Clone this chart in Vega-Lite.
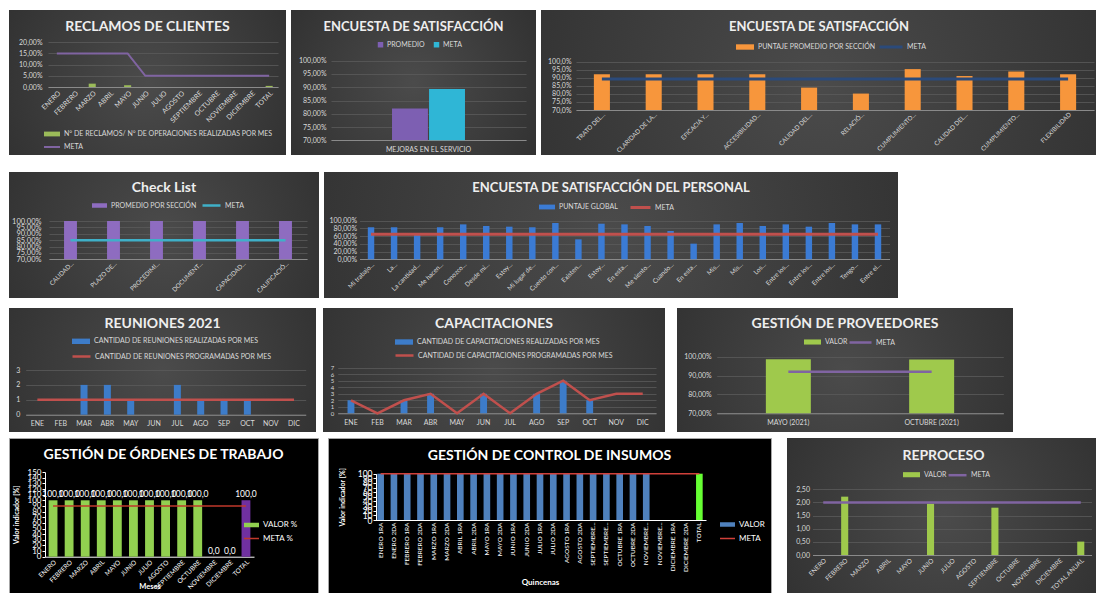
{
"$schema": "https://vega.github.io/schema/vega-lite/v6.json",
"background": "#ffffff",
"padding": {"left": 8, "top": 10, "right": 0, "bottom": 0},
"config": {
 "locale": {"number": {"decimal": ",", "thousands": ".", "grouping": [3], "currency": ["", " €"]}},
 "font": "Lato",
 "view": {"stroke": null},
 "axis": {"domain": false, "ticks": false, "labelColor": "#d9d9d9", "labelFont": "Lato", "labelFontSize": 7, "labelOverlap": false, "gridColor": "#5a5a5a", "gridWidth": 0.8, "titleFont": "Lato", "titleColor": "#ffffff"},
 "axisX": {"grid": false, "domain": true, "domainColor": "#8a8a8a", "domainWidth": 1},
 "axisY": {"grid": true},
 "legend": {"orient": "none", "labelColor": "#d9d9d9", "labelFont": "Lato", "labelFontSize": 7, "padding": 0, "labelLimit": 400, "labelOffset": 3},
 "title": {"color": "#eeeeee", "font": "Lato", "fontSize": 14, "fontWeight": "bold", "anchor": "middle", "baseline": "alphabetic"}
},
"datasets": {
 "reclamos": [
  {"mes": "ENERO", "valor": 0, "meta": 0.15},
  {"mes": "FEBRERO", "valor": 0, "meta": 0.15},
  {"mes": "MARZO", "valor": 0.015, "meta": 0.15},
  {"mes": "ABRIL", "valor": 0, "meta": 0.15},
  {"mes": "MAYO", "valor": 0.008, "meta": 0.15},
  {"mes": "JUNIO", "valor": 0, "meta": 0.05},
  {"mes": "JULIO", "valor": 0, "meta": 0.05},
  {"mes": "AGOSTO", "valor": 0, "meta": 0.05},
  {"mes": "SEPTIEMBRE", "valor": 0, "meta": 0.05},
  {"mes": "OCTUBRE", "valor": 0, "meta": 0.05},
  {"mes": "NOVIEMBRE", "valor": 0, "meta": 0.05},
  {"mes": "DICIEMBRE", "valor": 0, "meta": 0.05},
  {"mes": "TOTAL", "valor": 0.005, "meta": 0.05}
 ],
 "encuesta": [
  {"cat": "MEJORAS EN EL SERVICIO", "serie": "PROMEDIO", "valor": 0.82},
  {"cat": "MEJORAS EN EL SERVICIO", "serie": "META", "valor": 0.893}
 ],
 "secciones": [
  {"k": "01|TRATO DEL...", "valor": 0.922, "meta": 0.893},
  {"k": "02|CLARIDAD DE LA...", "valor": 0.922, "meta": 0.893},
  {"k": "03|EFICACIA Y...", "valor": 0.922, "meta": 0.893},
  {"k": "04|ACCESIBILIDAD...", "valor": 0.922, "meta": 0.893},
  {"k": "05|CALIDAD DEL...", "valor": 0.839, "meta": 0.893},
  {"k": "06|RELACIÓ...", "valor": 0.802, "meta": 0.893},
  {"k": "07|CUMPLIMIENTO...", "valor": 0.954, "meta": 0.893},
  {"k": "08|CALIDAD DEL...", "valor": 0.911, "meta": 0.893},
  {"k": "09|CUMPLIMIENTO...", "valor": 0.939, "meta": 0.893},
  {"k": "10|FLEXIBILIDAD", "valor": 0.922, "meta": 0.893}
 ],
 "checklist": [
  {"cat": "CALIDAD...", "valor": 1, "meta": 0.85},
  {"cat": "PLAZO DE...", "valor": 1, "meta": 0.85},
  {"cat": "PROCEDIMI...", "valor": 1, "meta": 0.85},
  {"cat": "DOCUMENT...", "valor": 1, "meta": 0.85},
  {"cat": "CAPACIDAD...", "valor": 1, "meta": 0.85},
  {"cat": "CALIFICACIÓ...", "valor": 1, "meta": 0.85}
 ],
 "personal": [
  {"k": "01|Mi trabajo...", "valor": 0.83, "meta": 0.65},
  {"k": "02|La...", "valor": 0.83, "meta": 0.65},
  {"k": "03|La cantidad...", "valor": 0.63, "meta": 0.65},
  {"k": "04|Me hacen...", "valor": 0.83, "meta": 0.65},
  {"k": "05|Conozco...", "valor": 0.905, "meta": 0.65},
  {"k": "06|Desde mi...", "valor": 0.862, "meta": 0.65},
  {"k": "07|Estoy...", "valor": 0.845, "meta": 0.65},
  {"k": "08|Mi lugar de...", "valor": 0.83, "meta": 0.65},
  {"k": "09|Cuento con...", "valor": 0.94, "meta": 0.65},
  {"k": "10|Existen...", "valor": 0.517, "meta": 0.65},
  {"k": "11|Estoy...", "valor": 0.922, "meta": 0.65},
  {"k": "12|En esta...", "valor": 0.905, "meta": 0.65},
  {"k": "13|Me siento...", "valor": 0.862, "meta": 0.65},
  {"k": "14|Cuando...", "valor": 0.733, "meta": 0.65},
  {"k": "15|En esta...", "valor": 0.405, "meta": 0.65},
  {"k": "16|Mis...", "valor": 0.905, "meta": 0.65},
  {"k": "17|Mis...", "valor": 0.94, "meta": 0.65},
  {"k": "18|Los...", "valor": 0.862, "meta": 0.65},
  {"k": "19|Entre los...", "valor": 0.905, "meta": 0.65},
  {"k": "20|Entre los...", "valor": 0.845, "meta": 0.65},
  {"k": "21|Entre los...", "valor": 0.94, "meta": 0.65},
  {"k": "22|Tengo...", "valor": 0.905, "meta": 0.65},
  {"k": "23|Entre el...", "valor": 0.905, "meta": 0.65}
 ],
 "reuniones": [
  {"mes": "ENE", "realizadas": 0, "programadas": 1},
  {"mes": "FEB", "realizadas": 0, "programadas": 1},
  {"mes": "MAR", "realizadas": 2, "programadas": 1},
  {"mes": "ABR", "realizadas": 2, "programadas": 1},
  {"mes": "MAY", "realizadas": 1, "programadas": 1},
  {"mes": "JUN", "realizadas": 0, "programadas": 1},
  {"mes": "JUL", "realizadas": 2, "programadas": 1},
  {"mes": "AGO", "realizadas": 1, "programadas": 1},
  {"mes": "SEP", "realizadas": 1, "programadas": 1},
  {"mes": "OCT", "realizadas": 1, "programadas": 1},
  {"mes": "NOV", "realizadas": 0, "programadas": 1},
  {"mes": "DIC", "realizadas": 0, "programadas": 1}
 ],
 "capacitaciones": [
  {"mes": "ENE", "realizadas": 2, "programadas": 2},
  {"mes": "FEB", "realizadas": 0, "programadas": 0},
  {"mes": "MAR", "realizadas": 2, "programadas": 2},
  {"mes": "ABR", "realizadas": 3, "programadas": 3},
  {"mes": "MAY", "realizadas": 0, "programadas": 0},
  {"mes": "JUN", "realizadas": 3, "programadas": 3},
  {"mes": "JUL", "realizadas": 0, "programadas": 0},
  {"mes": "AGO", "realizadas": 3, "programadas": 3},
  {"mes": "SEP", "realizadas": 5, "programadas": 5},
  {"mes": "OCT", "realizadas": 2, "programadas": 2},
  {"mes": "NOV", "realizadas": 0, "programadas": 3},
  {"mes": "DIC", "realizadas": 0, "programadas": 3}
 ],
 "proveedores": [
  {"periodo": "MAYO (2021)", "valor": 0.986, "meta": 0.92},
  {"periodo": "OCTUBRE (2021)", "valor": 0.985, "meta": 0.92}
 ],
 "ordenes": [
  {"mes": "ENERO", "serie": "VALOR %", "valor": 100, "meta": 90},
  {"mes": "FEBRERO", "serie": "VALOR %", "valor": 100, "meta": 90},
  {"mes": "MARZO", "serie": "VALOR %", "valor": 100, "meta": 90},
  {"mes": "ABRIL", "serie": "VALOR %", "valor": 100, "meta": 90},
  {"mes": "MAYO", "serie": "VALOR %", "valor": 100, "meta": 90},
  {"mes": "JUNIO", "serie": "VALOR %", "valor": 100, "meta": 90},
  {"mes": "JULIO", "serie": "VALOR %", "valor": 100, "meta": 90},
  {"mes": "AGOSTO", "serie": "VALOR %", "valor": 100, "meta": 90},
  {"mes": "SEPTIEMBRE", "serie": "VALOR %", "valor": 100, "meta": 90},
  {"mes": "OCTUBRE", "serie": "VALOR %", "valor": 100, "meta": 90},
  {"mes": "NOVIEMBRE", "serie": "VALOR %", "valor": 0, "meta": 90},
  {"mes": "DICIEMBRE", "serie": "VALOR %", "valor": 0, "meta": 90},
  {"mes": "TOTAL", "serie": "TOTAL", "valor": 100, "meta": 90}
 ],
 "insumos": [
  {"q": "ENERO 1RA", "serie": "VALOR", "valor": 100, "meta": 100},
  {"q": "ENERO 2DA", "serie": "VALOR", "valor": 100, "meta": 100},
  {"q": "FEBRERO 1RA", "serie": "VALOR", "valor": 100, "meta": 100},
  {"q": "FEBRERO 2DA", "serie": "VALOR", "valor": 100, "meta": 100},
  {"q": "MARZO 1RA", "serie": "VALOR", "valor": 100, "meta": 100},
  {"q": "MARZO 2DA", "serie": "VALOR", "valor": 100, "meta": 100},
  {"q": "ABRIL 1RA", "serie": "VALOR", "valor": 100, "meta": 100},
  {"q": "ABRIL 2DA", "serie": "VALOR", "valor": 100, "meta": 100},
  {"q": "MAYO 1RA", "serie": "VALOR", "valor": 100, "meta": 100},
  {"q": "MAYO 2DA", "serie": "VALOR", "valor": 100, "meta": 100},
  {"q": "JUNIO 1RA", "serie": "VALOR", "valor": 100, "meta": 100},
  {"q": "JUNIO 2DA", "serie": "VALOR", "valor": 100, "meta": 100},
  {"q": "JULIO 1RA", "serie": "VALOR", "valor": 100, "meta": 100},
  {"q": "JULIO 2DA", "serie": "VALOR", "valor": 100, "meta": 100},
  {"q": "AGOSTO 1RA", "serie": "VALOR", "valor": 100, "meta": 100},
  {"q": "AGOSTO 2DA", "serie": "VALOR", "valor": 100, "meta": 100},
  {"q": "SEPTIEMBRE 1RA", "serie": "VALOR", "valor": 100, "meta": 100},
  {"q": "SEPTIEMBRE 2DA", "serie": "VALOR", "valor": 100, "meta": 100},
  {"q": "OCTUBRE 1RA", "serie": "VALOR", "valor": 100, "meta": 100},
  {"q": "OCTUBRE 2DA", "serie": "VALOR", "valor": 100, "meta": 100},
  {"q": "NOVIEMBRE 1RA", "serie": "VALOR", "valor": 100, "meta": 100},
  {"q": "NOVIEMBRE 2DA", "serie": "VALOR", "valor": 0, "meta": 100},
  {"q": "DICIEMBRE 1RA", "serie": "VALOR", "valor": 0, "meta": 100},
  {"q": "DICIEMBRE 2DA", "serie": "VALOR", "valor": 0, "meta": 100},
  {"q": "TOTAL", "serie": "TOTAL", "valor": 100, "meta": 100}
 ],
 "reproceso": [
  {"mes": "ENERO", "valor": 0, "meta": 2},
  {"mes": "FEBRERO", "valor": 2.22, "meta": 2},
  {"mes": "MARZO", "valor": 0, "meta": 2},
  {"mes": "ABRIL", "valor": 0, "meta": 2},
  {"mes": "MAYO", "valor": 0, "meta": 2},
  {"mes": "JUNIO", "valor": 1.95, "meta": 2},
  {"mes": "JULIO", "valor": 0, "meta": 2},
  {"mes": "AGOSTO", "valor": 0, "meta": 2},
  {"mes": "SEPTIEMBRE", "valor": 1.8, "meta": 2},
  {"mes": "OCTUBRE", "valor": 0, "meta": 2},
  {"mes": "NOVIEMBRE", "valor": 0, "meta": 2},
  {"mes": "DICIEMBRE", "valor": 0, "meta": 2},
  {"mes": "TOTAL ANUAL", "valor": 0.51, "meta": 2}
 ]
},
"spacing": 17,
"resolve": {"scale": {"fill": "independent", "stroke": "independent"}, "legend": {"fill": "independent", "stroke": "independent"}},
"vconcat": [
 {"spacing": 5,
  "resolve": {"scale": {"fill": "independent", "stroke": "independent"}, "legend": {"fill": "independent", "stroke": "independent"}},
  "hconcat": [
  {
   "width": 277, "height": 145,
   "view": {"fill": {"gradient": "radial", "x1": 0.5, "y1": 0.5, "r1": 0, "x2": 0.5, "y2": 0.5, "r2": 0.75, "stops": [{"offset": 0, "color": "#4b4b4b"}, {"offset": 1, "color": "#2a2a2a"}]}, "stroke": null},
   "title": {"text": "RECLAMOS DE CLIENTES", "offset": -24},
   "data": {"name": "reclamos"},
   "resolve": {"axis": {"y": "independent"}},
   "encoding": {"x": {"field": "mes", "type": "nominal", "sort": null, "title": null, "scale": {"range": [39, 269], "paddingInner": 0.6, "paddingOuter": 0.3}, "axis": {"offset": -68, "labelAngle": -45}}},
   "layer": [
    {"mark": "bar", "encoding": {
      "y": {"field": "valor", "type": "quantitative", "title": null, "scale": {"domain": [0, 0.2], "range": [77, 32.3], "nice": false}, "axis": {"offset": -39, "values": [0, 0.05, 0.1, 0.15, 0.2], "format": ".2%", "labelPadding": 6, "labelOverlap": false}},
      "y2": {"datum": 0},
      "fill": {"datum": "N° DE RECLAMOS/ N° DE OPERACIONES REALIZADAS POR MES", "type": "nominal", "scale": {"range": ["#9bbb59"]}, "legend": {"title": null, "legendX": 34, "legendY": 115, "symbolType": "M-1,-0.3H1V0.3H-1Z", "symbolSize": 256}}}},
    {"mark": {"type": "line", "strokeWidth": 2}, "encoding": {
      "y": {"field": "meta", "type": "quantitative", "axis": null},
      "stroke": {"datum": "META", "type": "nominal", "scale": {"range": ["#8064a2"]}, "legend": {"title": null, "legendX": 34, "legendY": 128, "symbolType": "stroke", "symbolSize": 256, "symbolStrokeWidth": 2}}}}
   ]
  },
  {
   "width": 245, "height": 145,
   "view": {"fill": {"gradient": "radial", "x1": 0.5, "y1": 0.5, "r1": 0, "x2": 0.5, "y2": 0.5, "r2": 0.75, "stops": [{"offset": 0, "color": "#4b4b4b"}, {"offset": 1, "color": "#2a2a2a"}]}, "stroke": null},
   "title": {"text": "ENCUESTA DE SATISFACCIÓN", "offset": -24, "fontSize": 13},
   "data": {"name": "encuesta"},
   "mark": "bar",
   "encoding": {
    "x": {"field": "cat", "type": "nominal", "title": null, "scale": {"range": [40, 235], "paddingInner": 0, "paddingOuter": 0.836}, "axis": {"offset": -15, "labelAngle": 0, "labelPadding": 5}},
    "xOffset": {"field": "serie", "type": "nominal", "sort": ["PROMEDIO", "META"], "scale": {"paddingInner": 0.03}},
    "y": {"field": "valor", "type": "quantitative", "title": null, "scale": {"domain": [0.7, 1], "range": [130.3, 50.7], "nice": false, "zero": false}, "axis": {"offset": -40, "values": [0.7, 0.75, 0.8, 0.85, 0.9, 0.95, 1], "format": ".2%", "labelPadding": 5, "labelOverlap": false}},
    "y2": {"datum": 0.7},
    "fill": {"field": "serie", "type": "nominal", "sort": ["PROMEDIO", "META"], "scale": {"domain": ["PROMEDIO", "META"], "range": ["#7d5fb2", "#2fb6d6"]}, "legend": {"title": null, "direction": "horizontal", "legendX": 86, "legendY": 31, "symbolType": "square", "symbolSize": 30, "columnPadding": 8}}
   }
  },
  {
   "width": 556, "height": 145,
   "view": {"fill": {"gradient": "radial", "x1": 0.5, "y1": 0.5, "r1": 0, "x2": 0.5, "y2": 0.5, "r2": 0.75, "stops": [{"offset": 0, "color": "#4b4b4b"}, {"offset": 1, "color": "#2a2a2a"}]}, "stroke": null},
   "title": {"text": "ENCUESTA DE SATISFACCIÓN", "offset": -24, "fontSize": 13},
   "data": {"name": "secciones"},
   "resolve": {"axis": {"y": "independent"}},
   "encoding": {"x": {"field": "k", "type": "nominal", "sort": null, "title": null, "scale": {"range": [35, 553], "paddingInner": 0.69, "paddingOuter": 0.345}, "axis": {"offset": -45, "labelAngle": -45, "labelFontSize": 6.2, "labelPadding": 1, "labelExpr": "split(datum.value, '|')[1]"}}},
   "layer": [
    {"mark": "bar", "encoding": {
      "y": {"field": "valor", "type": "quantitative", "title": null, "scale": {"domain": [0.7, 1], "range": [100, 51.7], "nice": false, "zero": false}, "axis": {"offset": -35, "values": [0.7, 0.75, 0.8, 0.85, 0.9, 0.95, 1], "format": ".1%", "labelPadding": 5, "labelOverlap": false}},
      "y2": {"datum": 0.7},
      "fill": {"datum": "PUNTAJE PROMEDIO POR SECCIÓN", "type": "nominal", "scale": {"range": ["#f7963c"]}, "legend": {"title": null, "legendX": 194, "legendY": 27, "symbolType": "M-1,-0.3H1V0.3H-1Z", "symbolSize": 324}}}},
    {"mark": {"type": "line", "strokeWidth": 3}, "encoding": {
      "y": {"field": "meta", "type": "quantitative", "axis": null},
      "stroke": {"datum": "META", "type": "nominal", "scale": {"range": ["#2b4a7a"]}, "legend": {"title": null, "legendX": 337, "legendY": 24, "symbolType": "stroke", "symbolSize": 529, "symbolStrokeWidth": 3}}}}
   ]
  }
 ]},
 {"spacing": 10,
  "resolve": {"scale": {"fill": "independent", "stroke": "independent"}, "legend": {"fill": "independent", "stroke": "independent"}},
  "vconcat": [
  {"spacing": 5,
   "resolve": {"scale": {"fill": "independent", "stroke": "independent"}, "legend": {"fill": "independent", "stroke": "independent"}},
   "hconcat": [
   {
    "width": 310, "height": 126,
    "view": {"fill": {"gradient": "radial", "x1": 0.5, "y1": 0.5, "r1": 0, "x2": 0.5, "y2": 0.5, "r2": 0.75, "stops": [{"offset": 0, "color": "#4b4b4b"}, {"offset": 1, "color": "#2a2a2a"}]}, "stroke": null},
    "title": {"text": "Check List", "offset": -22.5},
    "data": {"name": "checklist"},
    "resolve": {"axis": {"y": "independent"}},
    "encoding": {"x": {"field": "cat", "type": "nominal", "sort": null, "title": null, "scale": {"range": [40, 298], "paddingInner": 0.7, "paddingOuter": 0.35}, "axis": {"offset": -39, "labelAngle": -45, "labelFontSize": 6.2, "labelPadding": 1}}},
    "layer": [
     {"mark": "bar", "encoding": {
       "y": {"field": "valor", "type": "quantitative", "title": null, "scale": {"domain": [0.7, 1], "range": [87.3, 49], "nice": false, "zero": false}, "axis": {"offset": -40, "values": [0.7, 0.75, 0.8, 0.85, 0.9, 0.95, 1], "format": ".2%", "labelPadding": 8, "labelFontSize": 7.5, "labelOverlap": false}},
       "y2": {"datum": 0.7},
       "fill": {"datum": "PROMEDIO POR SECCIÓN", "type": "nominal", "scale": {"range": ["#8e6cc0"]}, "legend": {"title": null, "legendX": 82, "legendY": 25, "symbolType": "M-1,-0.3H1V0.3H-1Z", "symbolSize": 225}}}},
     {"mark": {"type": "line", "strokeWidth": 2.5}, "encoding": {
       "y": {"field": "meta", "type": "quantitative", "axis": null},
       "stroke": {"datum": "META", "type": "nominal", "scale": {"range": ["#3fb0c8"]}, "legend": {"title": null, "legendX": 192, "legendY": 23, "symbolType": "stroke", "symbolSize": 324, "symbolStrokeWidth": 2.5}}}}
    ]
   },
   {
    "width": 574, "height": 126,
    "view": {"fill": {"gradient": "radial", "x1": 0.5, "y1": 0.5, "r1": 0, "x2": 0.5, "y2": 0.5, "r2": 0.75, "stops": [{"offset": 0, "color": "#4b4b4b"}, {"offset": 1, "color": "#2a2a2a"}]}, "stroke": null},
    "title": {"text": "ENCUESTA DE SATISFACCIÓN DEL PERSONAL", "offset": -22.5, "fontSize": 13},
    "data": {"name": "personal"},
    "resolve": {"axis": {"y": "independent"}},
    "encoding": {"x": {"field": "k", "type": "nominal", "sort": null, "title": null, "scale": {"range": [35.5, 565.5], "paddingInner": 0.72, "paddingOuter": 0.36}, "axis": {"offset": -39, "labelAngle": -45, "labelFontSize": 6.5, "labelExpr": "split(datum.value, '|')[1]"}}},
    "layer": [
     {"mark": "bar", "encoding": {
       "y": {"field": "valor", "type": "quantitative", "title": null, "scale": {"domain": [0, 1], "range": [87.3, 48.7], "nice": false}, "axis": {"offset": -35.5, "values": [0, 0.2, 0.4, 0.6, 0.8, 1], "format": ".2%", "labelPadding": 3, "labelOverlap": false}},
       "y2": {"datum": 0},
       "fill": {"datum": "PUNTAJE GLOBAL", "type": "nominal", "scale": {"range": ["#3b7bd4"]}, "legend": {"title": null, "legendX": 214, "legendY": 26, "symbolType": "M-1,-0.3H1V0.3H-1Z", "symbolSize": 256}}}},
     {"mark": {"type": "line", "strokeWidth": 3}, "encoding": {
       "y": {"field": "meta", "type": "quantitative", "axis": null},
       "stroke": {"datum": "META", "type": "nominal", "scale": {"range": ["#c0504d"]}, "legend": {"title": null, "legendX": 305, "legendY": 24, "symbolType": "stroke", "symbolSize": 400, "symbolStrokeWidth": 3}}}}
    ]
   }
  ]},
  {"spacing": 5,
   "resolve": {"scale": {"fill": "independent", "stroke": "independent"}, "legend": {"fill": "independent", "stroke": "independent"}},
   "vconcat": [
   {"spacing": 7,
    "resolve": {"scale": {"fill": "independent", "stroke": "independent"}, "legend": {"fill": "independent", "stroke": "independent"}},
    "hconcat": [
    {
     "width": 307, "height": 124,
     "view": {"fill": {"gradient": "radial", "x1": 0.5, "y1": 0.5, "r1": 0, "x2": 0.5, "y2": 0.5, "r2": 0.75, "stops": [{"offset": 0, "color": "#4b4b4b"}, {"offset": 1, "color": "#2a2a2a"}]}, "stroke": null},
     "title": {"text": "REUNIONES 2021", "offset": -22.5},
     "data": {"name": "reuniones"},
     "resolve": {"axis": {"y": "independent"}},
     "encoding": {"x": {"field": "mes", "type": "nominal", "sort": null, "title": null, "scale": {"range": [16.7, 296.7], "paddingInner": 0.7, "paddingOuter": 0.35}, "axis": {"offset": -17.3, "labelAngle": 0, "labelPadding": 5}}},
     "layer": [
      {"mark": "bar", "encoding": {
        "y": {"field": "realizadas", "type": "quantitative", "title": null, "scale": {"domain": [0, 3], "range": [106.7, 62], "nice": false}, "axis": {"offset": -16.7, "values": [0, 1, 2, 3], "format": "d", "labelPadding": 6, "labelOverlap": false}},
        "y2": {"datum": 0},
        "fill": {"datum": "CANTIDAD DE REUNIONES REALIZADAS POR MES", "type": "nominal", "scale": {"range": ["#3d7cc9"]}, "legend": {"title": null, "legendX": 62, "legendY": 23.3, "symbolType": "M-1,-0.3H1V0.3H-1Z", "symbolSize": 324}}}},
      {"mark": {"type": "line", "strokeWidth": 2.5}, "encoding": {
        "y": {"field": "programadas", "type": "quantitative", "axis": null},
        "stroke": {"datum": "CANTIDAD DE REUNIONES PROGRAMADAS POR MES", "type": "nominal", "scale": {"range": ["#c0504d"]}, "legend": {"title": null, "legendX": 62, "legendY": 38, "symbolType": "stroke", "symbolSize": 324, "symbolStrokeWidth": 2.5}}}}
     ]
    },
    {"spacing": 12,
     "resolve": {"scale": {"fill": "independent", "stroke": "independent"}, "legend": {"fill": "independent", "stroke": "independent"}},
     "hconcat": [
     {
      "width": 342, "height": 124,
      "view": {"fill": {"gradient": "radial", "x1": 0.5, "y1": 0.5, "r1": 0, "x2": 0.5, "y2": 0.5, "r2": 0.75, "stops": [{"offset": 0, "color": "#4b4b4b"}, {"offset": 1, "color": "#2a2a2a"}]}, "stroke": null},
      "title": {"text": "CAPACITACIONES", "offset": -22.5},
      "data": {"name": "capacitaciones"},
      "resolve": {"axis": {"y": "independent"}},
      "encoding": {"x": {"field": "mes", "type": "nominal", "sort": null, "title": null, "scale": {"range": [14.7, 333], "paddingInner": 0.74, "paddingOuter": 0.37}, "axis": {"offset": -18.7, "labelAngle": 0, "labelPadding": 5}}},
      "layer": [
       {"mark": "bar", "encoding": {
         "y": {"field": "realizadas", "type": "quantitative", "title": null, "scale": {"domain": [0, 7], "range": [105.3, 59.7], "nice": false}, "axis": {"offset": -14.7, "values": [0, 1, 2, 3, 4, 5, 6, 7], "format": "d", "labelPadding": 4, "labelFontSize": 6, "labelOverlap": false}},
         "y2": {"datum": 0},
         "fill": {"datum": "CANTIDAD DE CAPACITACIONES REALIZADAS POR MES", "type": "nominal", "scale": {"range": ["#3d7cc9"]}, "legend": {"title": null, "legendX": 71, "legendY": 24, "symbolType": "M-1,-0.3H1V0.3H-1Z", "symbolSize": 324}}}},
       {"mark": {"type": "line", "strokeWidth": 2.5}, "encoding": {
         "y": {"field": "programadas", "type": "quantitative", "axis": null},
         "stroke": {"datum": "CANTIDAD DE CAPACITACIONES PROGRAMADAS POR MES", "type": "nominal", "scale": {"range": ["#c0504d"]}, "legend": {"title": null, "legendX": 71, "legendY": 37, "symbolType": "stroke", "symbolSize": 324, "symbolStrokeWidth": 2.5}}}}
      ]
     },
     {
      "width": 336, "height": 124,
      "view": {"fill": {"gradient": "radial", "x1": 0.5, "y1": 0.5, "r1": 0, "x2": 0.5, "y2": 0.5, "r2": 0.75, "stops": [{"offset": 0, "color": "#4b4b4b"}, {"offset": 1, "color": "#2a2a2a"}]}, "stroke": null},
      "title": {"text": "GESTIÓN DE PROVEEDORES", "offset": -22.5},
      "data": {"name": "proveedores"},
      "resolve": {"axis": {"y": "independent"}},
      "encoding": {"x": {"field": "periodo", "type": "nominal", "sort": null, "title": null, "scale": {"range": [39.7, 326.3], "paddingInner": 0.686, "paddingOuter": 0.343}, "axis": {"offset": -18.7, "labelAngle": 0, "labelPadding": 5}}},
      "layer": [
       {"mark": "bar", "encoding": {
         "y": {"field": "valor", "type": "quantitative", "title": null, "scale": {"domain": [0.7, 1], "range": [105.3, 48.7], "nice": false, "zero": false}, "axis": {"offset": -39.7, "values": [0.7, 0.8, 0.9, 1], "format": ".2%", "labelPadding": 5.5, "labelOverlap": false}},
         "y2": {"datum": 0.7},
         "fill": {"datum": "VALOR", "type": "nominal", "scale": {"range": ["#9fc94c"]}, "legend": {"title": null, "legendX": 126, "legendY": 24.5, "symbolType": "M-1,-0.3H1V0.3H-1Z", "symbolSize": 289}}}},
       {"mark": {"type": "line", "strokeWidth": 2.5}, "encoding": {
         "y": {"field": "meta", "type": "quantitative", "axis": null},
         "stroke": {"datum": "META", "type": "nominal", "scale": {"range": ["#8064a2"]}, "legend": {"title": null, "legendX": 171, "legendY": 22, "symbolType": "stroke", "symbolSize": 484, "symbolStrokeWidth": 2.5}}}}
      ]
     }
    ]}
   ]},
   {"spacing": 8,
    "resolve": {"scale": {"fill": "independent", "stroke": "independent"}, "legend": {"fill": "independent", "stroke": "independent"}},
    "hconcat": [
    {
     "width": 309, "height": 156,
     "view": {"fill": "#000000", "stroke": "#a6a6a6"},
     "title": {"text": "GESTIÓN DE ÓRDENES DE TRABAJO", "offset": -24, "fontSize": 14, "color": "#ffffff"},
     "data": {"name": "ordenes"},
     "resolve": {"axis": {"y": "independent"}},
     "encoding": {"x": {"field": "mes", "type": "nominal", "sort": null, "title": "Meses", "scale": {"range": [36, 245], "paddingInner": 0.45, "paddingOuter": 0.225}, "axis": {"offset": -37.3, "labelAngle": -45, "labelColor": "#ffffff", "labelFontSize": 6.5, "domainColor": "#ffffff", "titleFontSize": 7.5, "titleFontWeight": "bold", "titleY": 34, "titleBaseline": "bottom"}}},
     "layer": [
      {"mark": "bar", "encoding": {
        "y": {"field": "valor", "type": "quantitative", "title": "Valor indicador [%]", "scale": {"domain": [0, 150], "range": [118.7, 34.1], "nice": false}, "axis": {"offset": -36, "grid": false, "domain": true, "domainColor": "#ffffff", "ticks": true, "tickColor": "#ffffff", "tickSize": 3, "labelColor": "#ffffff", "labelFontSize": 8, "labelPadding": 1, "labelOverlap": false, "values": [0, 10, 20, 30, 40, 50, 60, 70, 80, 90, 100, 110, 120, 130, 140, 150], "format": "d", "titleFontSize": 7, "titleFontWeight": "bold", "titleX": -26}},
        "y2": {"datum": 0},
        "fill": {"field": "serie", "type": "nominal", "scale": {"domain": ["VALOR %", "TOTAL"], "range": ["#92d050", "#7030a0"]}, "legend": {"title": null, "values": ["VALOR %"], "legendX": 234, "legendY": 78.5, "symbolType": "M-1,-0.3H1V0.3H-1Z", "symbolSize": 225, "labelColor": "#ffffff", "labelFontSize": 8}}}},
      {"mark": {"type": "line", "strokeWidth": 1.5}, "encoding": {
        "y": {"field": "meta", "type": "quantitative", "axis": null},
        "stroke": {"datum": "META %", "type": "nominal", "scale": {"range": ["#c0392b"]}, "legend": {"title": null, "legendX": 234, "legendY": 92, "symbolType": "stroke", "symbolSize": 225, "symbolStrokeWidth": 1.5, "labelColor": "#ffffff", "labelFontSize": 8}}}},
      {"mark": {"type": "text", "baseline": "bottom", "dy": -1, "fontSize": 8.5, "color": "#ffffff"}, "encoding": {
        "y": {"field": "valor", "type": "quantitative", "axis": null},
        "text": {"field": "valor", "type": "quantitative", "format": ".1f"}}}
     ]
    },
    {"spacing": 15,
     "resolve": {"scale": {"fill": "independent", "stroke": "independent"}, "legend": {"fill": "independent", "stroke": "independent"}},
     "hconcat": [
     {
      "width": 443, "height": 156,
      "view": {"fill": "#000000", "stroke": "#a6a6a6"},
      "title": {"text": "GESTIÓN DE CONTROL DE INSUMOS", "offset": -25, "fontSize": 14, "color": "#ffffff"},
      "data": {"name": "insumos"},
      "resolve": {"axis": {"y": "independent"}},
      "encoding": {"x": {"field": "q", "type": "nominal", "sort": null, "title": "Quincenas", "scale": {"range": [46, 378], "paddingInner": 0.5, "paddingOuter": 0.25}, "axis": {"offset": -74, "labelAngle": -90, "labelColor": "#ffffff", "labelFontSize": 6.5, "domainColor": "#ffffff", "labelExpr": "split(datum.value, ' ')[0] == 'SEPTIEMBRE' || split(datum.value, ' ')[0] == 'NOVIEMBRE' ? split(datum.value, ' ')[0] + '...' : datum.value", "titleFontSize": 8, "titleFontWeight": "bold", "titleY": 62, "titleBaseline": "middle"}}},
      "layer": [
       {"mark": "bar", "encoding": {
         "y": {"field": "valor", "type": "quantitative", "title": "Valor indicador [%]", "scale": {"domain": [0, 100], "range": [82, 35.7], "nice": false}, "axis": {"offset": -48, "grid": false, "domain": true, "domainColor": "#ffffff", "ticks": true, "tickColor": "#ffffff", "tickSize": 3, "labelColor": "#ffffff", "labelFontSize": 8.5, "labelPadding": 1, "labelOverlap": false, "values": [0, 10, 20, 30, 40, 50, 60, 70, 80, 90, 100], "format": "d", "titleFontSize": 7, "titleFontWeight": "bold", "titleX": -31}},
         "y2": {"datum": 0},
         "fill": {"field": "serie", "type": "nominal", "scale": {"domain": ["VALOR", "TOTAL"], "range": ["#4f81bd", "#66ff33"]}, "legend": {"title": null, "values": ["VALOR"], "legendX": 391, "legendY": 78, "symbolType": "M-1,-0.3H1V0.3H-1Z", "symbolSize": 225, "labelColor": "#ffffff", "labelFontSize": 8}}}},
       {"mark": {"type": "line", "strokeWidth": 1.5}, "encoding": {
         "y": {"field": "meta", "type": "quantitative", "axis": null},
         "stroke": {"datum": "META", "type": "nominal", "scale": {"range": ["#d0403a"]}, "legend": {"title": null, "legendX": 391, "legendY": 92, "symbolType": "stroke", "symbolSize": 225, "symbolStrokeWidth": 1.5, "labelColor": "#ffffff", "labelFontSize": 8}}}}
      ]
     },
     {
      "width": 313, "height": 156,
      "view": {"fill": {"gradient": "radial", "x1": 0.5, "y1": 0.5, "r1": 0, "x2": 0.5, "y2": 0.5, "r2": 0.75, "stops": [{"offset": 0, "color": "#4b4b4b"}, {"offset": 1, "color": "#2a2a2a"}]}, "stroke": null},
      "title": {"text": "REPROCESO", "offset": -25},
      "data": {"name": "reproceso"},
      "resolve": {"axis": {"y": "independent"}},
      "encoding": {"x": {"field": "mes", "type": "nominal", "sort": null, "title": null, "scale": {"range": [25.5, 304.5], "paddingInner": 0.67, "paddingOuter": 0.335}, "axis": {"offset": -39, "labelAngle": -45, "labelFontSize": 6.5}}},
      "layer": [
       {"mark": "bar", "encoding": {
         "y": {"field": "valor", "type": "quantitative", "title": null, "scale": {"domain": [0, 2.5], "range": [117, 51.3], "nice": false}, "axis": {"offset": -25.5, "values": [0, 0.5, 1, 1.5, 2, 2.5], "format": ".2f", "labelPadding": 3, "labelOverlap": false}},
         "y2": {"datum": 0},
         "fill": {"datum": "VALOR", "type": "nominal", "scale": {"range": ["#9fc94c"]}, "legend": {"title": null, "legendX": 115, "legendY": 27.2, "symbolType": "M-1,-0.3H1V0.3H-1Z", "symbolSize": 289}}}},
       {"mark": {"type": "line", "strokeWidth": 2.5}, "encoding": {
         "y": {"field": "meta", "type": "quantitative", "axis": null},
         "stroke": {"datum": "META", "type": "nominal", "scale": {"range": ["#8064a2"]}, "legend": {"title": null, "legendX": 160, "legendY": 26.7, "symbolType": "stroke", "symbolSize": 324, "symbolStrokeWidth": 2.5}}}}
      ]
     }
    ]}
   ]}
  ]}
 ]}
]
}
